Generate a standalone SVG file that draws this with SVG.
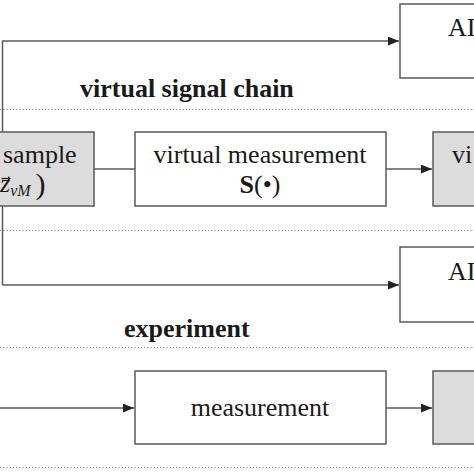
<svg xmlns="http://www.w3.org/2000/svg" width="474" height="474" viewBox="0 0 474 474">
<style>
.box{fill:#ffffff;stroke:#5a5a5a;stroke-width:1.5}
.gbox{fill:#dcdcdc;stroke:#5a5a5a;stroke-width:1.5}
.wire{fill:none;stroke:#5a5a5a;stroke-width:1.5}
.dot{stroke:#8a8a8a;stroke-width:1;stroke-dasharray:1.2 2}
.t{font-family:"Liberation Serif","Times New Roman",serif;font-size:26px;fill:#1a1a1a}
.b{font-weight:bold}
</style>
<defs>
<marker id="arr" viewBox="0 0 10 8" refX="10" refY="4" markerWidth="11" markerHeight="9" markerUnits="userSpaceOnUse" orient="auto">
<path d="M0,0 L10,4 L0,8 z" fill="#222"/>
</marker>
</defs>
<rect width="474" height="474" fill="#fff"/>
<g id="separators">
<line class="dot" x1="0" y1="109.5" x2="474" y2="109.5"/>
<line class="dot" x1="0" y1="230.5" x2="474" y2="230.5"/>
<line class="dot" x1="0" y1="347.5" x2="474" y2="347.5"/>
<line class="dot" x1="0" y1="467.5" x2="474" y2="467.5"/>
</g>
<g id="labels">
<text class="t b" x="80" y="97">virtual signal chain</text>
<text class="t b" x="124" y="337">experiment</text>
</g>
<g id="connectors">
<path class="wire" d="M2.5,285 V41 H399" marker-end="url(#arr)"/>
<line class="wire" x1="2.5" y1="285" x2="399" y2="285" marker-end="url(#arr)"/>
<line class="wire" x1="94" y1="169" x2="135" y2="169"/>
<line class="wire" x1="386" y1="169" x2="432" y2="169" marker-end="url(#arr)"/>
<line class="wire" x1="0" y1="408" x2="134" y2="408" marker-end="url(#arr)"/>
<line class="wire" x1="386" y1="408" x2="432" y2="408" marker-end="url(#arr)"/>
</g>
<g id="ai-top">
<rect class="box" x="400" y="4" width="80" height="74"/>
<text class="t" x="448" y="36">AI</text>
</g>
<g id="sample">
<rect class="gbox" x="-10" y="132" width="104" height="74"/>
<text class="t" x="3" y="163">sample</text>
<text class="t" x="0" y="192"><tspan font-style="italic">z</tspan><tspan font-size="16" font-style="italic" dy="4">vM</tspan><tspan font-size="30" dx="5" dy="-2">)</tspan></text>
<path d="M1.5,178.5 H10" stroke="#1a1a1a" stroke-width="1.2" fill="none"/>
<path d="M8,176.3 L11,178.5 L8,180.7 z" fill="#1a1a1a"/>
</g>
<g id="virtual-measurement">
<rect class="box" x="135" y="132" width="251" height="74"/>
<text class="t" x="260" y="163" text-anchor="middle">virtual measurement</text>
<text class="t" x="260" y="193" text-anchor="middle"><tspan font-weight="bold">S</tspan>(•)</text>
</g>
<g id="virtual-output">
<rect class="gbox" x="433" y="132" width="50" height="74"/>
<text class="t" x="452" y="163">vi</text>
</g>
<g id="ai-bottom">
<rect class="box" x="400" y="247" width="80" height="75"/>
<text class="t" x="448" y="280">AI</text>
</g>
<g id="measurement">
<rect class="box" x="135" y="371" width="251" height="73"/>
<text class="t" x="260" y="416" text-anchor="middle">measurement</text>
</g>
<g id="measured-output">
<rect class="gbox" x="433" y="371" width="50" height="73"/>
</g>
</svg>
